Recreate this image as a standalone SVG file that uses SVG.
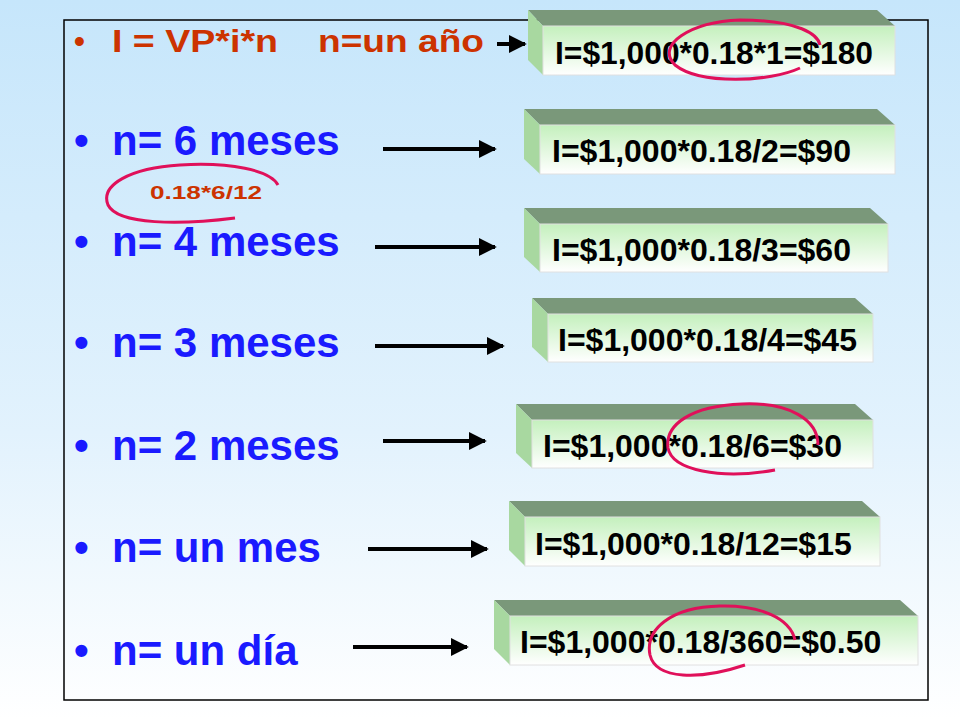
<svg xmlns="http://www.w3.org/2000/svg" width="960" height="720" viewBox="0 0 960 720">
<defs>
<linearGradient id="bg" x1="0" y1="0" x2="0" y2="1"><stop offset="0" stop-color="#c6e6fb"/><stop offset="0.6" stop-color="#e2f2fd"/><stop offset="1" stop-color="#ffffff"/></linearGradient>
<linearGradient id="fr" x1="0" y1="0" x2="0" y2="1"><stop offset="0" stop-color="#c4f0bd"/><stop offset="1" stop-color="#ffffff"/></linearGradient>
<marker id="ah" viewBox="0 0 10 10" refX="9" refY="5" markerWidth="4.5" markerHeight="4.5" orient="auto" markerUnits="strokeWidth"><path d="M0,0L10,5L0,10z" fill="#000"/></marker>
</defs>
<style>
.top{fill:#7a987a}.side{fill:#a8d8a0}.front{fill:url(#fr);stroke:#e0e0e0;stroke-width:1}
.bt{font-family:"Liberation Sans",Arial,sans-serif;font-weight:bold;font-size:32px;fill:#000}
.n{font-family:"Liberation Sans",Arial,sans-serif;font-weight:bold;font-size:42px;fill:#1a1aff}
.r{font-family:"Liberation Sans",Arial,sans-serif;font-weight:bold;font-size:31px;fill:#cc3300}
.ar{stroke:#000;stroke-width:4;fill:none;marker-end:url(#ah)}
.ov{stroke:#e0105a;stroke-width:3;fill:none}
</style>
<rect width="960" height="720" fill="url(#bg)"/>
<rect x="64" y="20" width="864" height="680" fill="none" stroke="#000" stroke-width="1.5"/>
<g id="left">
<text class="r" x="74" y="52">•</text>
<text class="r" x="112" y="52" textLength="166" lengthAdjust="spacingAndGlyphs">I = VP*i*n</text>
<text class="r" x="318" y="52" textLength="166" lengthAdjust="spacingAndGlyphs">n=un año</text>
<text class="n" x="74" y="155">•</text><text class="n" x="112" y="155">n= 6 meses</text>
<text class="n" x="74" y="256">•</text><text class="n" x="112" y="256">n= 4 meses</text>
<text class="n" x="74" y="357">•</text><text class="n" x="112" y="357">n= 3 meses</text>
<text class="n" x="74" y="460">•</text><text class="n" x="112" y="460">n= 2 meses</text>
<text class="n" x="74" y="562">•</text><text class="n" x="112" y="562">n= un mes</text>
<text class="n" x="74" y="665">•</text><text class="n" x="112" y="665">n= un día</text>
<text x="150" y="199" font-family="Liberation Sans,Arial,sans-serif" font-weight="bold" font-size="18" fill="#cc3300" textLength="112" lengthAdjust="spacingAndGlyphs">0.18*6/12</text>
</g>
<g id="b1"><path class="top" d="M528,10H877L895,26H543z"/><path class="side" d="M528,10L543,26V75L528,60z"/><rect class="front" x="543" y="26" width="352" height="49"/><text class="bt" x="555" y="64" textLength="318" lengthAdjust="spacingAndGlyphs">I=$1,000*0.18*1=$180</text></g>
<g id="b2"><path class="top" d="M524,109H877L895,125H540z"/><path class="side" d="M524,109L540,125V174L524,159z"/><rect class="front" x="540" y="125" width="355" height="49"/><text class="bt" x="552" y="162">I=$1,000*0.18/2=$90</text></g>
<g id="b3"><path class="top" d="M524,208H870L888,224H540z"/><path class="side" d="M524,208L540,224V272L524,257z"/><rect class="front" x="540" y="224" width="348" height="48"/><text class="bt" x="552" y="261">I=$1,000*0.18/3=$60</text></g>
<g id="b4"><path class="top" d="M532,298H855L873,314H548z"/><path class="side" d="M532,298L548,314V362L532,347z"/><rect class="front" x="548" y="314" width="325" height="48"/><text class="bt" x="558" y="351">I=$1,000*0.18/4=$45</text></g>
<g id="b5"><path class="top" d="M516,404H855L873,420H532z"/><path class="side" d="M516,404L532,420V468L516,453z"/><rect class="front" x="532" y="420" width="341" height="48"/><text class="bt" x="543" y="457">I=$1,000*0.18/6=$30</text></g>
<g id="b6"><path class="top" d="M509,501H862L880,517H525z"/><path class="side" d="M509,501L525,517V566L509,550z"/><rect class="front" x="525" y="517" width="355" height="49"/><text class="bt" x="535" y="555">I=$1,000*0.18/12=$15</text></g>
<g id="b7"><path class="top" d="M494,600H900L918,616H510z"/><path class="side" d="M494,600L510,616V665L494,649z"/><rect class="front" x="510" y="616" width="408" height="49"/><text class="bt" x="520" y="653">I=$1,000*0.18/360=$0.50</text></g>
<g id="connectors">
<line class="ar" x1="497" y1="44" x2="525" y2="44"/>
<line class="ar" x1="383" y1="149" x2="495" y2="149"/>
<line class="ar" x1="375" y1="247" x2="495" y2="247"/>
<line class="ar" x1="375" y1="346" x2="503" y2="346"/>
<line class="ar" x1="383" y1="441" x2="485" y2="441"/>
<line class="ar" x1="368" y1="549" x2="487" y2="549"/>
<line class="ar" x1="353" y1="647" x2="467" y2="647"/>
</g>
<g id="ovals">
<path class="ov" d="M800,68C770,82 700,85 675,65C655,45 690,22 740,20C800,20 818,35 820,45"/>
<path class="ov" d="M278,185C270,170 230,162 180,165C130,168 100,185 108,205C118,225 180,225 235,218"/>
<path class="ov" d="M818,445C818,420 790,402 742,404C690,406 665,425 668,448C672,470 720,480 775,470"/>
<path class="ov" d="M795,640C790,618 760,605 720,606C670,607 645,630 650,655C656,680 700,680 745,665"/>
</g>
</svg>
